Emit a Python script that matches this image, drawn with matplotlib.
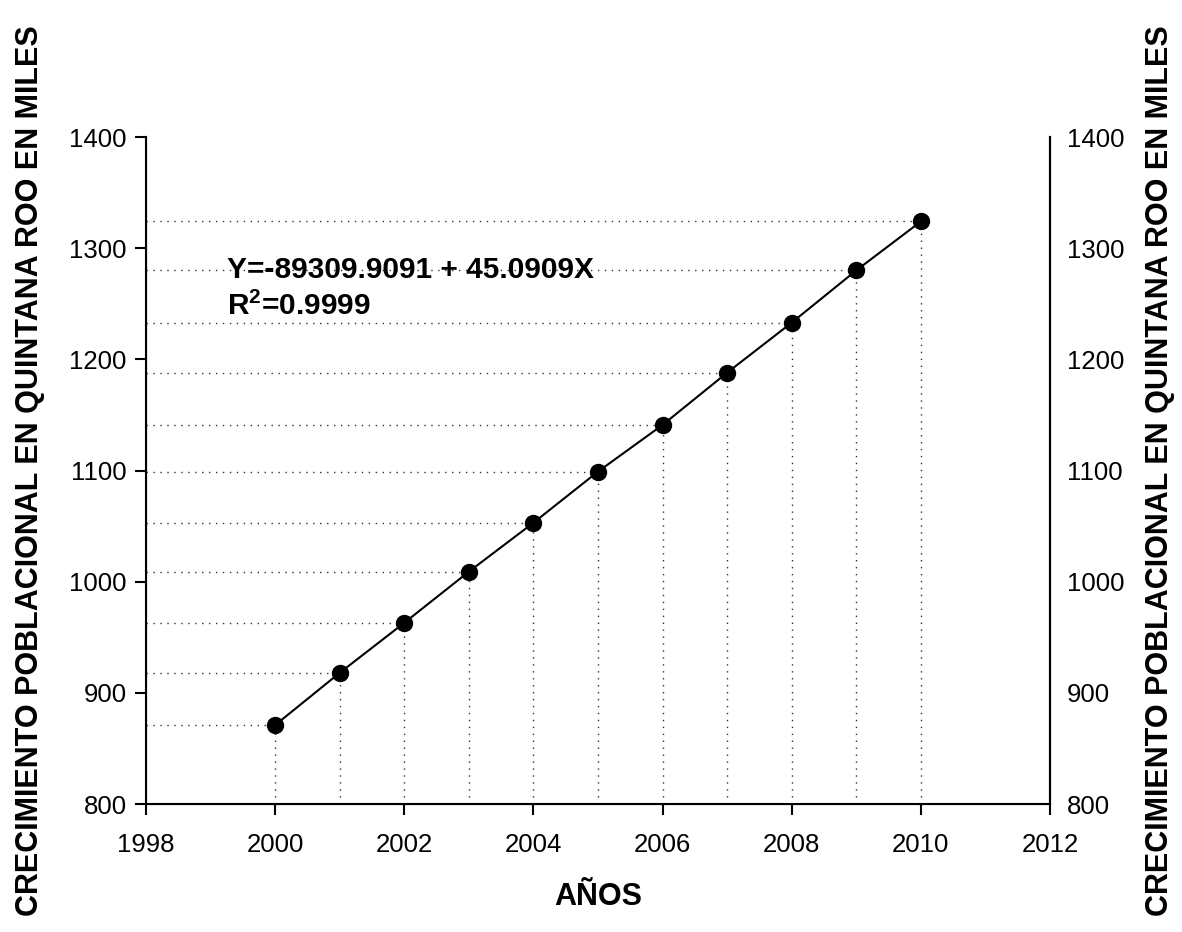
import matplotlib
matplotlib.use('Agg')
import matplotlib.pyplot as plt

plt.rcParams['font.family'] = ['Liberation Sans', 'DejaVu Sans']
plt.rcParams['mathtext.fontset'] = 'custom'
plt.rcParams['mathtext.bf'] = 'Liberation Sans:bold'

years = [2000, 2001, 2002, 2003, 2004, 2005, 2006, 2007, 2008, 2009, 2010]
population = [871, 918, 963, 1009, 1053, 1099, 1141, 1188, 1233, 1280, 1324]

x_ticks = [1998, 2000, 2002, 2004, 2006, 2008, 2010, 2012]
y_ticks = [800, 900, 1000, 1100, 1200, 1300, 1400]
ylabel = 'CRECIMIENTO POBLACIONAL EN QUINTANA ROO EN MILES'

fig = plt.figure(figsize=(11.82, 9.32), dpi=100)
ax = fig.add_axes([0.1235, 0.1373, 0.7648, 0.7157])

# guias punteadas
for x, y in zip(years, population):
    ax.plot([1998, x], [y, y], color='#333333', lw=1, ls=(0, (1, 4)), zorder=1)
    ax.plot([x, x], [800, y], color='#333333', lw=1, ls=(0, (1, 4)), zorder=1)

ax.plot(years, population, color='black', lw=1.5, marker='o', ms=11.5, zorder=3)

ax.set_xlim(1998, 2012)
ax.set_ylim(800, 1400)
ax.set_xticks(x_ticks)
ax.set_yticks(y_ticks)
ax.tick_params(direction='out', length=8, width=1.5, labelsize=18.5)
ax.tick_params(axis='x', pad=13)
ax.tick_params(axis='y', pad=6)
ax.spines['top'].set_visible(False)
for s in ['left', 'bottom', 'right']:
    ax.spines[s].set_linewidth(1.5)

ax.set_xlabel('AÑOS', fontsize=22, fontweight='bold', labelpad=18)
ax.set_ylabel(ylabel, fontsize=22, fontweight='bold', labelpad=17)

ax.text(1999.25, 1273, 'Y=-89309.9091 + 45.0909X', fontsize=21.5, fontweight='bold', va='baseline')
ax.text(1999.25, 1240, r'R$^\mathbf{2}$=0.9999', fontsize=21.5, fontweight='bold', va='baseline')

ax2 = ax.twinx()
ax2.set_ylim(800, 1400)
ax2.set_yticks(y_ticks)
ax2.tick_params(length=0, labelsize=18.5, pad=12)
ax2.spines['top'].set_visible(False)
ax2.spines['right'].set_linewidth(1.5)
ax2.set_ylabel(ylabel, fontsize=22, fontweight='bold', rotation=90, labelpad=15)

fig.savefig('out.png', dpi=100)
